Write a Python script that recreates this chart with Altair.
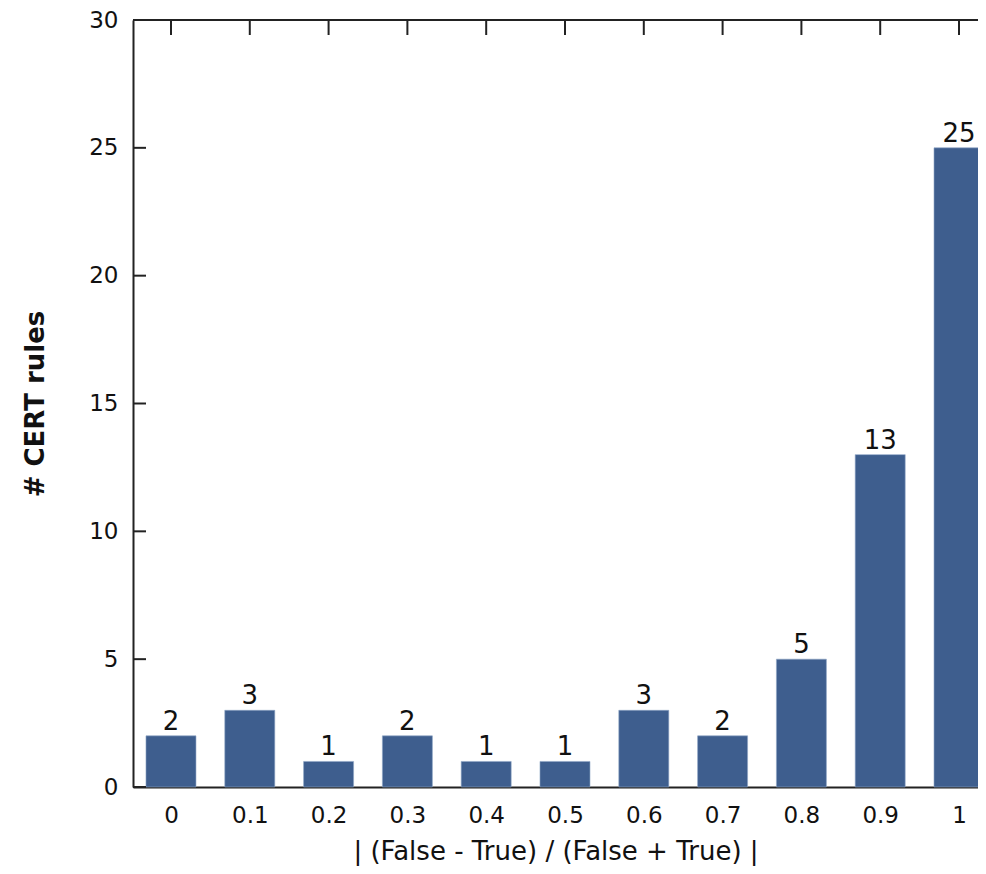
import altair as alt
import pandas as pd

categories = [0.0, 0.1, 0.2, 0.3, 0.4, 0.5, 0.6, 0.7, 0.8, 0.9, 1.0]
counts = [2, 3, 1, 2, 1, 1, 3, 2, 5, 13, 25]
y_ticks = [0, 5, 10, 15, 20, 25, 30]

df = pd.DataFrame({"cat": categories, "n": counts})
ticks_df = pd.DataFrame({"t": y_ticks})

FONT = "DejaVu Sans"
BAR = "#3e5e8e"
LINE = "#222222"
W = 845     # visible plot width (the reference frame is cut on the right)
PW = 864
PH = 767

xscale = alt.Scale(domain=[-0.0482, 1.0241], nice=False, zero=False, padding=0)
yscale = alt.Scale(domain=[0, 30])

x_enc = alt.X("cat:Q", scale=xscale,
              axis=alt.Axis(title="| (False - True) / (False + True) |", values=categories,
                            format="~g", labelAngle=0, grid=False,
                            ticks=False, labelPadding=17, titlePadding=11,
                            domainColor=LINE, domainWidth=2))
y_enc = alt.Y("n:Q", scale=yscale,
              axis=alt.Axis(title="# CERT rules", values=y_ticks, ticks=False, grid=False,
                            labelPadding=15, titlePadding=40,
                            domainColor=LINE, domainWidth=2))

bars = alt.Chart(df).mark_bar(color=BAR, stroke="#8fa6c6", strokeWidth=0.6, width=50).encode(x=x_enc, y=y_enc)

labels = alt.Chart(df).mark_text(baseline="bottom", dy=-1, fontSize=26, font=FONT, color="#111").encode(
    x=alt.X("cat:Q", scale=xscale),
    y=alt.Y("n:Q", scale=yscale),
    text="n:Q",
)

top_line = alt.Chart(df).mark_rule(color=LINE, strokeWidth=2).encode(
    x=alt.value(0), x2=alt.value(PW), y=alt.value(0)
)

top_ticks = alt.Chart(df).mark_rule(color=LINE, strokeWidth=2).encode(
    x=alt.X("cat:Q", scale=xscale), y=alt.value(0), y2=alt.value(15)
)

left_ticks = alt.Chart(ticks_df).mark_rule(color=LINE, strokeWidth=2).encode(
    y=alt.Y("t:Q", scale=yscale), x=alt.value(0), x2=alt.value(13)
)

chart = alt.layer(bars, labels, top_line, top_ticks, left_ticks).properties(
    width=W, height=PH,
    autosize=alt.AutoSizeParams(type="none"),
    padding={"left": 125, "top": 12, "right": 0, "bottom": 79},
).configure_view(stroke=None).configure_axis(
    labelFont=FONT, titleFont=FONT, labelFontSize=23, titleFontSize=26,
    labelColor="#111", titleColor="#111",
).configure_axisY(titleFontWeight="bold").configure_axisX(titleFontWeight="normal", titleFontSize=26)

chart.save("out.html", embed_options={"renderer": "svg", "actions": False})
